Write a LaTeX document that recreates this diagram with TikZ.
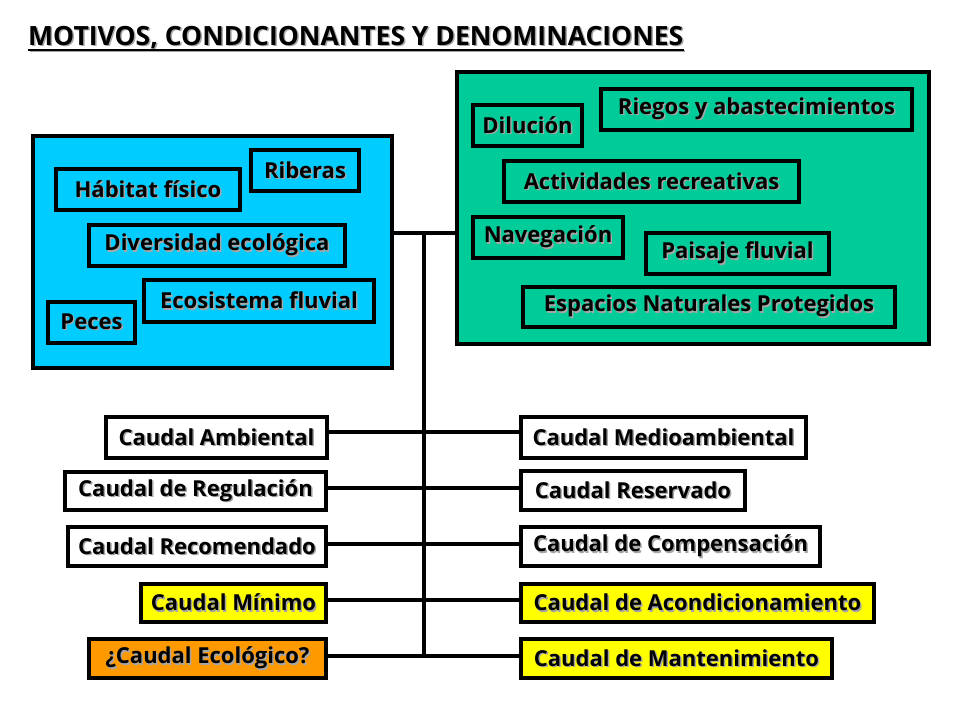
\documentclass[tikz,border=0pt]{standalone}
\usepackage{fontspec}
\setmainfont{Open Sans}
\definecolor{bluebg}{HTML}{00CCFF}
\definecolor{greenbg}{HTML}{00CC99}
\definecolor{yel}{HTML}{FFFF00}
\definecolor{ora}{HTML}{FF9900}
\newcommand\shd[1]{\leavevmode\rlap{\kern1.5pt\raisebox{-1.5pt}{\textcolor{black!35}{#1}}}#1}
\tikzset{
  bx/.style={draw, line width=4pt, anchor=north west, inner sep=0pt,
    font=\fontsize{22}{25}\selectfont\bfseries},
  conn/.style={line width=4pt}
}
\begin{document}
\begin{tikzpicture}[x=1pt,y=-1pt]
\useasboundingbox[fill=white] (0,0) rectangle (960,720);
% title
\node[anchor=base west, inner sep=0pt, font=\fontsize{26.5}{30}\selectfont\bfseries] (title) at (28,45) {\shd{MOTIVOS, CONDICIONANTES Y DENOMINACIONES}};
\draw[line width=2pt, black!35] ([xshift=1.5pt,yshift=-6pt]title.base west) -- ([xshift=1.5pt,yshift=-6pt]title.base east);
\draw[line width=2pt] ([yshift=-4.5pt]title.base west) -- ([yshift=-4.5pt]title.base east);
% blue group
\node[bx, fill=bluebg, minimum width=359, minimum height=232] (blue) at (31,134) {};
\node[bx, fill=bluebg, minimum width=184, minimum height=41] (habitat) at (54,167) {\shd{Hábitat físico}};
\node[bx, fill=bluebg, minimum width=108, minimum height=41] (riberas) at (249,148) {\shd{Riberas}};
\node[bx, fill=bluebg, minimum width=256, minimum height=41] (divers) at (87,223) {\shd{Diversidad ecológica}};
\node[bx, fill=bluebg, minimum width=230, minimum height=42] (ecosis) at (142,278) {\shd{Ecosistema fluvial}};
\node[bx, fill=bluebg, minimum width=87, minimum height=41] (peces) at (46,300) {\shd{Peces}};
% green group
\node[bx, fill=greenbg, minimum width=472, minimum height=272] (green) at (455,70) {};
\node[bx, fill=greenbg, minimum width=109, minimum height=41] (dilucion) at (471,103) {\shd{Dilución}};
\node[bx, fill=greenbg, minimum width=311, minimum height=41] (riegos) at (599,87) {\shd{Riegos y abastecimientos}};
\node[bx, fill=greenbg, minimum width=295, minimum height=41] (activ) at (502,159) {\shd{Actividades recreativas}};
\node[bx, fill=greenbg, minimum width=150, minimum height=41] (naveg) at (471,215) {\shd{Navegación}};
\node[bx, fill=greenbg, minimum width=183, minimum height=41] (paisaje) at (644,231) {\shd{Paisaje fluvial}};
\node[bx, fill=greenbg, minimum width=372, minimum height=40] (espacios) at (521,285) {\shd{Espacios Naturales Protegidos}};
% left column
\node[bx, fill=white, minimum width=221, minimum height=41] (camb) at (104,415) {\shd{Caudal Ambiental}};
\node[bx, fill=white, minimum width=261, minimum height=38] (creg) at (63,470) {\shd{Caudal de Regulación}};
\node[bx, fill=white, minimum width=258, minimum height=39] (crec) at (66,525) {\shd{Caudal Recomendado}};
\node[bx, fill=yel, minimum width=185, minimum height=38] (cmin) at (139,582) {\shd{Caudal Mínimo}};
\node[bx, fill=ora, minimum width=237, minimum height=39] (ceco) at (87,637) {\shd{¿Caudal Ecológico?}};
% right column
\node[bx, fill=white, minimum width=285, minimum height=41] (cmed) at (519,415) {\shd{Caudal Medioambiental}};
\node[bx, fill=white, minimum width=224, minimum height=39] (cres) at (519,469) {\shd{Caudal Reservado}};
\node[bx, fill=white, minimum width=299, minimum height=39] (ccomp) at (519,525) {\shd{Caudal de Compensación}};
\node[bx, fill=yel, minimum width=353, minimum height=38] (cacond) at (519,582) {\shd{Caudal de Acondicionamiento}};
\node[bx, fill=yel, minimum width=311, minimum height=39] (cmant) at (519,637) {\shd{Caudal de Mantenimiento}};
% connectors
\coordinate (jtop) at (424,233);
\coordinate (jbot) at (424,656);
\coordinate (r1) at (424,432);
\coordinate (r2) at (424,488);
\coordinate (r3) at (424,544);
\coordinate (r4) at (424,600);
\draw[conn] (blue.east |- jtop) -- (green.west |- jtop);
\draw[conn] (jtop) -- (jbot);
\draw[conn] (camb.east |- r1) -- (cmed.west |- r1);
\draw[conn] (creg.east |- r2) -- (cres.west |- r2);
\draw[conn] (crec.east |- r3) -- (ccomp.west |- r3);
\draw[conn] (cmin.east |- r4) -- (cacond.west |- r4);
\draw[conn] (ceco.east |- jbot) -- (cmant.west |- jbot);
\end{tikzpicture}
\end{document}
